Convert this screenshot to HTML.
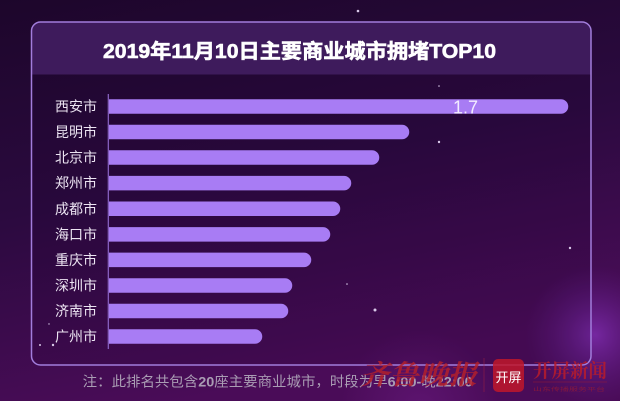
<!DOCTYPE html>
<html><head><meta charset="utf-8">
<style>
html,body{margin:0;padding:0;width:620px;height:401px;overflow:hidden;background:#2a0a3c;}
svg{display:block;}
</style></head>
<body>
<svg width="620" height="401" viewBox="0 0 620 401" xmlns="http://www.w3.org/2000/svg">
<defs>
<linearGradient id="bg" x1="0" y1="0" x2="0.3" y2="1">
<stop offset="0" stop-color="#1d062b"/>
<stop offset="0.5" stop-color="#2b0a3f"/>
<stop offset="1" stop-color="#4a0c58"/>
</linearGradient>
<radialGradient id="glow" cx="595" cy="335" r="70" gradientUnits="userSpaceOnUse">
<stop offset="0" stop-color="#7a2aa8" stop-opacity="0.9"/>
<stop offset="1" stop-color="#5a1a80" stop-opacity="0"/>
</radialGradient>
<radialGradient id="glow2" cx="420" cy="410" r="80" gradientUnits="userSpaceOnUse">
<stop offset="0" stop-color="#6a1a80" stop-opacity="0.6"/>
<stop offset="1" stop-color="#6a1a80" stop-opacity="0"/>
</radialGradient>
<clipPath id="cardclip"><rect x="31.5" y="22" width="559.5" height="343" rx="9"/></clipPath>
</defs>
<rect width="620" height="401" fill="url(#bg)"/>
<rect width="620" height="401" fill="url(#glow)"/>
<rect width="620" height="401" fill="url(#glow2)"/>

<!-- card -->
<g clip-path="url(#cardclip)">
<rect x="31.5" y="22" width="559.5" height="343" fill="#1a0028" fill-opacity="0.12"/>
<rect x="31.5" y="22" width="559.5" height="52.5" fill="#3e1b5c"/>
</g>
<rect x="31.5" y="22" width="559.5" height="343" rx="9" fill="none" stroke="#a27ddc" stroke-width="1.5"/>

<!-- title -->
<text x="299.5" y="58" text-anchor="middle" font-family="Liberation Sans, Noto Sans CJK SC, sans-serif" font-weight="bold" font-size="20" fill="#ffffff" stroke="#ffffff" stroke-width="0.6" textLength="393" lengthAdjust="spacingAndGlyphs">2019年11月10日主要商业城市拥堵TOP10</text>

<!-- axis -->
<line x1="108.3" y1="94" x2="108.3" y2="349" stroke="#8d66c8" stroke-width="1.2"/>

<!-- bars -->
<g fill="#a87cf4">
<path d="M109 99.2 H561 a7.25 7.25 0 0 1 0 14.5 H109 Z"/>
<path d="M109 124.8 H402 a7.25 7.25 0 0 1 0 14.5 H109 Z"/>
<path d="M109 150.3 H372 a7.25 7.25 0 0 1 0 14.5 H109 Z"/>
<path d="M109 175.9 H344 a7.25 7.25 0 0 1 0 14.5 H109 Z"/>
<path d="M109 201.5 H333 a7.25 7.25 0 0 1 0 14.5 H109 Z"/>
<path d="M109 227.1 H323 a7.25 7.25 0 0 1 0 14.5 H109 Z"/>
<path d="M109 252.6 H304 a7.25 7.25 0 0 1 0 14.5 H109 Z"/>
<path d="M109 278.2 H285 a7.25 7.25 0 0 1 0 14.5 H109 Z"/>
<path d="M109 303.8 H281 a7.25 7.25 0 0 1 0 14.5 H109 Z"/>
<path d="M109 329.3 H255 a7.25 7.25 0 0 1 0 14.5 H109 Z"/>
</g>

<text x="453" y="113.5" font-family="Liberation Sans, sans-serif" font-size="18" fill="#f2ecff">1.7</text>

<!-- labels -->
<g font-family="Liberation Sans, Noto Sans CJK SC, sans-serif" font-size="14" fill="#ece4f2" text-anchor="end">
<text x="97" y="111.5">西安市</text>
<text x="97" y="137.1">昆明市</text>
<text x="97" y="162.6">北京市</text>
<text x="97" y="188.2">郑州市</text>
<text x="97" y="213.8">成都市</text>
<text x="97" y="239.4">海口市</text>
<text x="97" y="264.9">重庆市</text>
<text x="97" y="290.5">深圳市</text>
<text x="97" y="316.1">济南市</text>
<text x="97" y="341.6">广州市</text>
</g>

<!-- stars -->
<g fill="#d8c8e8">
<circle cx="358" cy="11" r="1.3"/>
<circle cx="439" cy="86" r="0.8"/>
<circle cx="439" cy="142" r="1.2"/>
<circle cx="570" cy="248" r="1.2"/>
<circle cx="347" cy="284" r="0.8"/>
<circle cx="375" cy="310" r="1.5"/>
<circle cx="40" cy="345" r="1"/>
<circle cx="53" cy="345" r="1.2"/>
<circle cx="49" cy="324" r="0.7"/>
</g>

<!-- footnote -->
<text x="82.7" y="386.5" font-family="Liberation Sans, Noto Sans CJK SC, sans-serif" font-size="14" fill="#a99cb3" textLength="390" lengthAdjust="spacingAndGlyphs">注：此排名共包含<tspan font-weight="bold">20</tspan>座主要商业城市，时段为早<tspan font-weight="bold">6:00-</tspan>晚<tspan font-weight="bold">22:00</tspan></text>

<!-- watermark -->
<text x="360" y="384" font-family="Noto Serif CJK SC, serif" font-style="italic" font-weight="bold" font-size="27" fill="#b3202c" fill-opacity="0.85" textLength="117" lengthAdjust="spacingAndGlyphs">齐鲁晚报</text>
<line x1="484" y1="358" x2="484" y2="392" stroke="#a02040" stroke-opacity="0.5" stroke-width="1"/>
<rect x="493" y="359" width="31" height="33" rx="5" fill="#c0182a" fill-opacity="0.85"/>
<text x="508.5" y="382" text-anchor="middle" font-family="Liberation Sans, Noto Sans CJK SC, sans-serif" font-size="13" fill="#ffffff">开屏</text>
<text x="533" y="377" font-family="Noto Serif CJK SC, serif" font-weight="bold" font-size="19" fill="#b81c2a" fill-opacity="0.85" textLength="74" lengthAdjust="spacingAndGlyphs">开屏新闻</text>
<line x1="533" y1="382" x2="607" y2="382" stroke="#a01c30" stroke-opacity="0.6" stroke-width="0.8"/>
<text x="533" y="391" font-family="Noto Sans CJK SC, sans-serif" font-size="5" fill="#a01c30" fill-opacity="0.7" textLength="72" lengthAdjust="spacingAndGlyphs">山东传播服务平台</text>
</svg>
</body></html>
